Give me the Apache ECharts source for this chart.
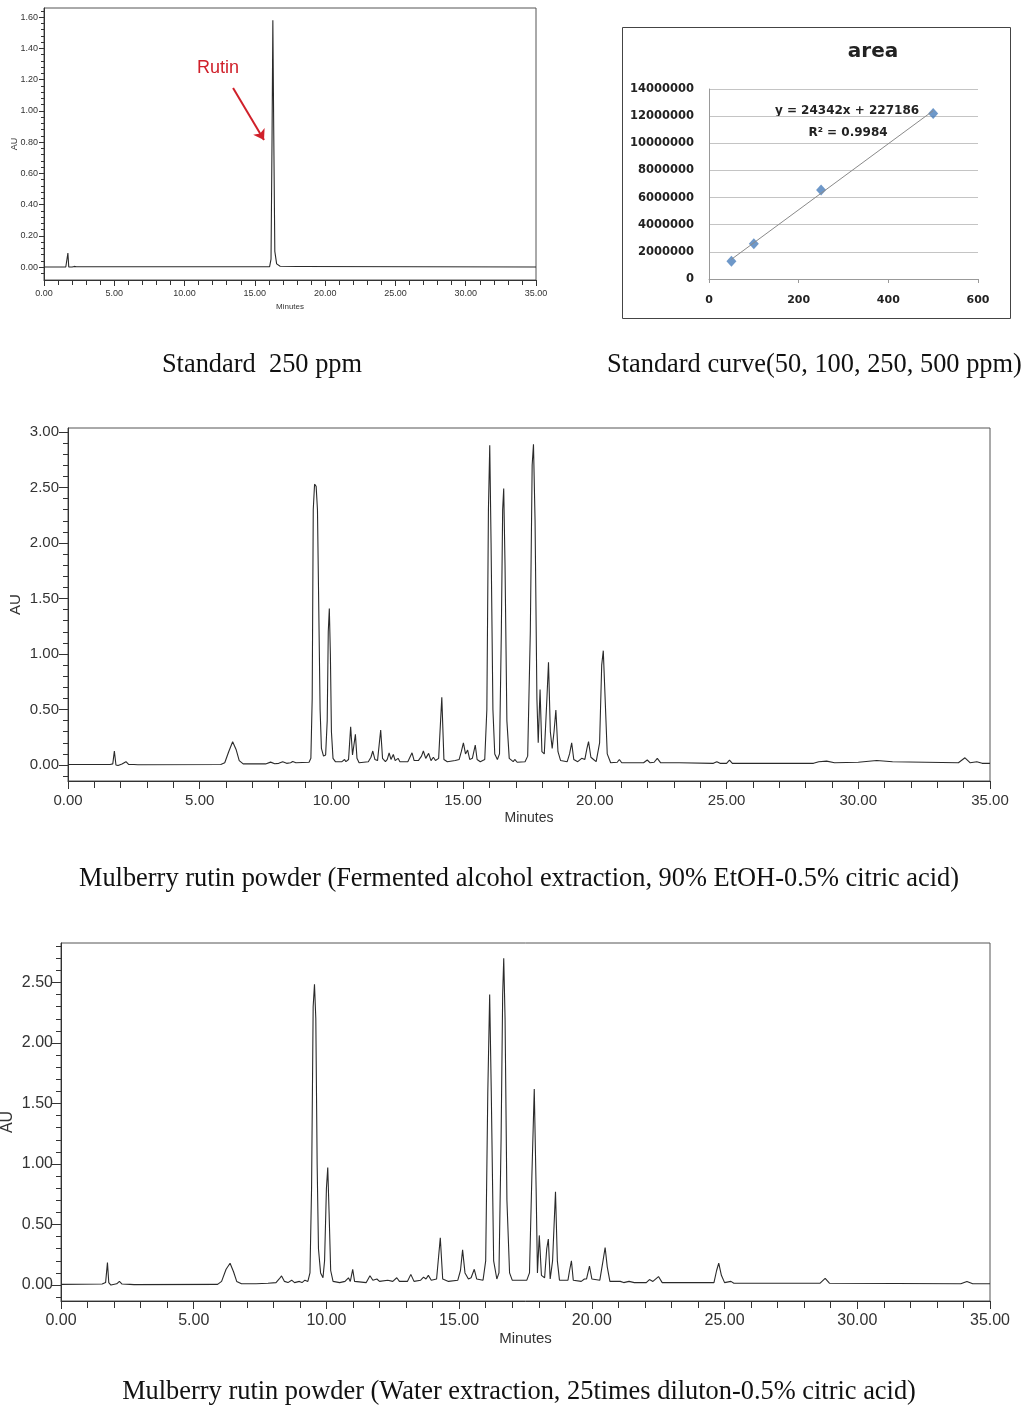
<!DOCTYPE html>
<html lang="en">
<head>
<meta charset="UTF-8">
<title>rutin hplc</title>
<script src="https://cdn.jsdelivr.net/npm/echarts@6.0.0/dist/echarts.min.js"></script>
<style>html,body{margin:0;padding:0;background:#fff}</style>
</head>
<body>
<div id="main" style="width:1025px;height:1407px"></div>
<script>
// --- data: [minutes, AU] ---
var standard = [[0,0],[1.55,0],[1.65,0.005],[1.7,0.09],[1.76,0],[1.85,-0.01],[2.0,0],[2.15,0.004],[2.22,0.015],[2.3,0.002],
  [16.05,0.002],[16.15,0.05],[16.22,0.8],[16.28,1.58],[16.34,0.9],[16.42,0.1],[16.55,0.02],[16.8,0.005],[18.0,0.003],[18.1,0.012],[18.2,0.003],[35,0]];

var fermented = [[0,0.005],[1.6,0.005],[1.7,0.01],[1.76,0.126],[1.82,0],[1.9,-0.005],[2.05,0.01],[2.2,0.03],[2.3,0.005],[2.5,0.005],[2.57,0.012],[2.65,0.003],
  [5.8,0.005],[5.95,0.02],[6.1,0.12],[6.25,0.21],[6.38,0.14],[6.5,0.04],[6.65,0.01],[7.5,0.01],[7.69,0.026],[7.85,0.012],[8.0,0.015],[8.15,0.03],[8.3,0.015],[8.45,0.02],[8.53,0.032],[8.65,0.02],
  [9.15,0.025],[9.22,0.06],[9.27,0.6],[9.31,2.3],[9.36,2.53],[9.42,2.51],[9.47,2.3],[9.52,1.4],[9.57,0.5],[9.62,0.15],[9.7,0.08],[9.78,0.09],[9.84,0.4],[9.88,1.2],[9.92,1.41],[9.96,1.0],[10.0,0.3],[10.06,0.06],
  [10.15,0.03],[10.4,0.03],[10.5,0.05],[10.55,0.03],[10.65,0.05],[10.73,0.345],[10.8,0.09],[10.86,0.08],[10.91,0.276],[10.97,0.06],[11.05,0.02],[11.4,0.03],[11.5,0.07],[11.57,0.126],[11.65,0.05],[11.75,0.04],[11.87,0.315],[11.94,0.06],
  [12.05,0.03],[12.12,0.05],[12.19,0.11],[12.26,0.05],[12.35,0.095],[12.42,0.04],[12.53,0.06],[12.6,0.03],[12.9,0.03],[13.06,0.11],[13.14,0.04],[13.3,0.04],[13.42,0.08],[13.49,0.126],[13.58,0.06],[13.69,0.105],[13.78,0.04],[13.87,0.07],[13.95,0.04],
  [14.07,0.06],[14.19,0.61],[14.27,0.05],[14.4,0.03],[14.7,0.04],[14.85,0.05],[14.93,0.12],[15.01,0.2],[15.09,0.1],[15.17,0.135],[15.25,0.05],[15.35,0.06],[15.46,0.18],[15.53,0.05],[15.65,0.03],
  [15.82,0.05],[15.9,0.5],[15.96,2.3],[16.01,2.88],[16.06,2.0],[16.13,0.5],[16.2,0.1],[16.3,0.05],[16.38,0.1],[16.45,1.2],[16.5,2.3],[16.54,2.49],[16.59,1.8],[16.66,0.4],[16.75,0.06],[16.9,0.03],[16.96,0.05],[17.05,0.025],
  [17.35,0.03],[17.45,0.08],[17.55,1.2],[17.62,2.7],[17.67,2.89],[17.73,2.2],[17.8,0.6],[17.85,0.2],[17.92,0.68],[17.99,0.12],[18.08,0.1],[18.18,0.6],[18.24,0.925],[18.31,0.3],[18.38,0.15],[18.45,0.3],[18.52,0.495],[18.6,0.12],[18.7,0.04],
  [18.95,0.03],[19.04,0.1],[19.12,0.2],[19.2,0.05],[19.35,0.03],[19.5,0.06],[19.56,0.07],[19.62,0.05],[19.7,0.15],[19.76,0.21],[19.85,0.07],[19.95,0.05],[20.05,0.03],[20.18,0.2],[20.26,0.9],[20.32,1.03],[20.39,0.6],[20.47,0.1],[20.6,0.02],
  [20.85,0.025],[20.93,0.05],[21.02,0.02],[21.85,0.02],[21.99,0.045],[22.1,0.02],[22.25,0.025],[22.37,0.06],[22.5,0.02],[22.85,0.02],[23.2,0.02],[24.5,0.015],[24.63,0.03],[24.75,0.015],[25.0,0.015],[25.11,0.045],[25.22,0.015],
  [28.3,0.015],[28.5,0.03],[28.8,0.035],[29.1,0.02],[30.0,0.025],[30.7,0.04],[31.3,0.03],[33.8,0.02],[34.05,0.065],[34.25,0.02],[34.5,0.03],[34.7,0.015],[35,0.015]];

var water = [[0,0.005],[1.55,0.008],[1.68,0.02],[1.75,0.185],[1.8,0.02],[1.88,0],[2.1,0.01],[2.2,0.03],[2.3,0.008],[2.6,0.005],[2.66,0.012],[2.75,0.003],
  [5.9,0.005],[6.05,0.03],[6.22,0.13],[6.37,0.18],[6.5,0.11],[6.62,0.03],[6.8,0.01],[7.35,0.01],[7.8,0.015],[8.1,0.02],[8.22,0.05],[8.31,0.075],[8.42,0.03],[8.55,0.02],[8.69,0.04],[8.8,0.02],[8.98,0.03],[9.08,0.02],[9.19,0.04],[9.3,0.03],
  [9.38,0.1],[9.44,0.8],[9.5,2.3],[9.55,2.485],[9.6,2.2],[9.65,1.0],[9.7,0.3],[9.78,0.1],[9.87,0.06],[9.93,0.2],[10.0,0.8],[10.05,0.97],[10.1,0.6],[10.16,0.12],[10.25,0.03],
  [10.5,0.02],[10.7,0.03],[10.83,0.06],[10.9,0.03],[10.99,0.13],[11.06,0.03],[11.5,0.02],[11.64,0.077],[11.75,0.04],[11.9,0.05],[12.0,0.03],[12.31,0.04],[12.5,0.03],[12.65,0.06],[12.75,0.03],
  [13.05,0.03],[13.18,0.088],[13.3,0.03],[13.55,0.04],[13.66,0.065],[13.75,0.05],[13.84,0.08],[13.95,0.04],[14.15,0.05],[14.29,0.39],[14.38,0.05],[14.6,0.03],
  [14.95,0.04],[15.05,0.12],[15.13,0.29],[15.22,0.1],[15.35,0.05],[15.45,0.06],[15.57,0.13],[15.66,0.05],[15.9,0.04],
  [16.0,0.2],[16.08,1.6],[16.15,2.40],[16.21,1.6],[16.3,0.2],[16.42,0.05],[16.5,0.1],[16.58,1.2],[16.64,2.4],[16.68,2.70],[16.73,2.2],[16.8,0.7],[16.9,0.1],[17.0,0.04],[17.3,0.04],
  [17.55,0.04],[17.65,0.1],[17.74,0.9],[17.83,1.62],[17.9,0.8],[17.95,0.1],[18.02,0.41],[18.1,0.08],[18.22,0.06],[18.3,0.3],[18.36,0.38],[18.43,0.05],[18.52,0.2],[18.63,0.77],[18.7,0.2],[18.78,0.04],
  [19.1,0.04],[19.16,0.12],[19.23,0.2],[19.3,0.04],[19.6,0.03],[19.72,0.05],[19.8,0.05],[19.91,0.157],[20.0,0.05],[20.3,0.04],[20.42,0.2],[20.5,0.31],[20.58,0.15],[20.68,0.03],
  [21.07,0.03],[21.2,0.02],[21.4,0.03],[21.6,0.02],[22.05,0.02],[22.17,0.045],[22.3,0.03],[22.51,0.07],[22.65,0.02],[24.6,0.02],[24.7,0.12],[24.78,0.18],[24.88,0.08],[25.0,0.02],[25.24,0.03],[25.35,0.015],
  [28.6,0.015],[28.79,0.055],[28.95,0.015],[33.9,0.01],[34.13,0.03],[34.35,0.01],[35,0.01]];

// standard curve (ppm, peak area)
var conc = [50, 100, 250, 500];
var area = [1300000, 2600000, 6550000, 12200000];
var trend = [[50, 1450000], [500, 12400000]];

// tick labels
var stdTicks = [0, 0.2, 0.4, 0.6, 0.8, 1.0, 1.2, 1.4, 1.6];
var fermTicks = [0, 0.5, 1.0, 1.5, 2.0, 2.5, 3.0];
var waterTicks = [0, 0.5, 1.0, 1.5, 2.0, 2.5];

function minors(from, to, step, major) {
  var out = [];
  for (var v = from; v <= to + 1e-9; v += step) {
    var r = v / major;
    if (Math.abs(r - Math.round(r)) > 1e-6) out.push(+v.toFixed(3));
  }
  return out;
}

var axisCol = '#333';
var lbl = function (v) { return v.toFixed(2); };

function chromX(gi, fs, font, margin, gap, tickLen) {
  return {
    type: 'value', gridIndex: gi, min: 0, max: 35, interval: 5,
    axisLine: { show: true, onZero: false, lineStyle: { color: axisCol } },
    axisTick: { show: true, length: tickLen, lineStyle: { color: axisCol } },
    minorTick: { show: true, splitNumber: 5, length: tickLen - 1, lineStyle: { color: axisCol } },
    splitLine: { show: false },
    axisLabel: { formatter: lbl, fontSize: fs, fontFamily: font, color: axisCol, margin: margin },
    name: 'Minutes', nameLocation: 'middle', nameGap: gap, nameMoveOverlap: false,
    nameTextStyle: { fontSize: fs - 1, fontFamily: font, color: axisCol }
  };
}
function chromY(gi, min, max, ticks, fs, font, gap, tickLen, margin) {
  return {
    type: 'value', gridIndex: gi, min: min, max: max,
    axisLine: { show: true, onZero: false, lineStyle: { color: axisCol } },
    axisTick: { show: true, length: tickLen, customValues: ticks, lineStyle: { color: axisCol } },
    splitLine: { show: false },
    axisLabel: { customValues: ticks, formatter: lbl, fontSize: fs, fontFamily: font, color: axisCol, margin: margin },
    name: 'AU', nameLocation: 'middle', nameGap: gap, nameMoveOverlap: false,
    nameTextStyle: { fontSize: fs, fontFamily: font, color: axisCol }
  };
}
function minorY(gi, min, max, vals, len) {
  return {
    type: 'value', gridIndex: gi, min: min, max: max, position: 'left', offset: 0,
    axisLine: { show: false },
    axisTick: { show: true, length: len, customValues: vals, lineStyle: { color: axisCol } },
    axisLabel: { show: false }, splitLine: { show: false }
  };
}
function trace(data, xi, yi) {
  return {
    type: 'line', data: data, xAxisIndex: xi, yAxisIndex: yi,
    showSymbol: false, symbol: 'none', smooth: false,
    lineStyle: { color: '#2a2a2a', width: 1.1 }
  };
}

var narrow = '"Liberation Sans Narrow", "Liberation Sans", sans-serif';
var sans = '"Liberation Sans", Arial, sans-serif';
var serif = '"Liberation Serif", "Times New Roman", serif';
var bold = '"DejaVu Sans", Verdana, sans-serif';
var frame = { show: true, borderColor: '#555', borderWidth: 1, backgroundColor: '#fff', containLabel: false, outerBoundsMode: 'none' };

var stdTrace = trace(standard, 0, 0);
stdTrace.markLine = {
  silent: true, symbol: ['none', 'arrow'], symbolSize: 10, animation: false,
  lineStyle: { color: '#d0202a', width: 2, type: 'solid' }, label: { show: false },
  data: [[{ coord: [13.45, 1.146] }, { coord: [15.65, 0.813] }]]
};
stdTrace.markPoint = {
  silent: true, symbol: 'circle', symbolSize: 0, animation: false,
  data: [{ coord: [12.38, 1.274], label: { show: true, position: 'inside', formatter: 'Rutin', color: '#d0202a', fontSize: 18, fontFamily: narrow } }]
};

var chart = echarts.init(document.getElementById('main'));
chart.setOption({
  animation: false,
  backgroundColor: '#fff',
  grid: [
    Object.assign({ left: 44, top: 8, width: 492, height: 272 }, frame),
    Object.assign({ left: 68, top: 428, width: 922, height: 353 }, frame),
    Object.assign({ left: 61, top: 943, width: 929, height: 358 }, frame),
    { left: 709, top: 89, width: 269, height: 190, show: false, containLabel: false, outerBoundsMode: 'none' }
  ],
  xAxis: [
    chromX(0, 9, narrow, 9, 23, 6),
    chromX(1, 15, sans, 12, 30, 8),
    chromX(2, 16, sans, 12, 30, 8),
    {
      type: 'value', gridIndex: 3, min: 0, max: 600, interval: 200,
      axisLine: { show: true, onZero: false, lineStyle: { color: '#999' } },
      axisTick: { show: true, length: 4, lineStyle: { color: '#999' } },
      splitLine: { show: false },
      axisLabel: { fontSize: 11, fontWeight: 'bold', fontFamily: bold, color: '#222', margin: 16 }
    }
  ],
  yAxis: [
    chromY(0, -0.083, 1.658, stdTicks, 9, narrow, 25, 5, 6),
    chromY(1, -0.144, 3.036, fermTicks, 15, sans, 45, 9, 9),
    chromY(2, -0.132, 2.826, waterTicks, 16, sans, 45, 9, 8),
    {
      type: 'value', gridIndex: 3, min: 0, max: 14000000, interval: 2000000,
      axisLine: { show: true, lineStyle: { color: '#999' } },
      axisTick: { show: false },
      splitLine: { show: true, lineStyle: { color: '#c4c4c4' } },
      axisLabel: { fontSize: 11.5, fontWeight: 'bold', fontFamily: bold, color: '#222', margin: 15,
        formatter: function (v) { return String(v); } }
    },
    minorY(0, -0.083, 1.658, minors(-0.04, 1.64, 0.04, 0.2), 3),
    minorY(1, -0.144, 3.036, minors(-0.1, 3.0, 0.1, 0.5), 5),
    minorY(2, -0.132, 2.826, minors(-0.1, 2.8, 0.1, 0.5), 5)
  ],
  series: [
    stdTrace,
    trace(fermented, 1, 1),
    trace(water, 2, 2),
    {
      type: 'line', data: trend, xAxisIndex: 3, yAxisIndex: 3, showSymbol: false, symbol: 'none',
      lineStyle: { color: '#8a8a8a', width: 1 }
    },
    {
      type: 'scatter', xAxisIndex: 3, yAxisIndex: 3, symbol: 'diamond', symbolSize: [10, 11],
      itemStyle: { color: '#4a7ebb' },
      data: conc.map(function (c, i) { return [c, area[i]]; })
    }
  ],
  graphic: [
    { type: 'rect', silent: true, shape: { x: 622.5, y: 27.5, width: 388, height: 291 }, style: { fill: 'none', stroke: '#444', lineWidth: 1 } },
    { type: 'text', silent: true, x: 873, y: 52, style: { text: 'area', font: 'bold 20px ' + bold, fill: '#222', align: 'center', verticalAlign: 'middle' } },
    { type: 'text', silent: true, x: 847, y: 111, style: { text: 'y = 24342x + 227186', font: 'bold 12px ' + bold, fill: '#222', align: 'center', verticalAlign: 'middle' } },
    { type: 'text', silent: true, x: 848, y: 133, style: { text: 'R² = 0.9984', font: 'bold 12px ' + bold, fill: '#222', align: 'center', verticalAlign: 'middle' } },
    { type: 'text', silent: true, x: 262, y: 365, style: { text: 'Standard  250 ppm', font: '26.4px ' + serif, fill: '#111', align: 'center', verticalAlign: 'middle' } },
    { type: 'text', silent: true, x: 607, y: 365, style: { text: 'Standard curve(50, 100, 250, 500 ppm)', font: '26.4px ' + serif, fill: '#111', align: 'left', verticalAlign: 'middle' } },
    { type: 'text', silent: true, x: 519, y: 879, style: { text: 'Mulberry rutin powder (Fermented alcohol extraction, 90% EtOH-0.5% citric acid)', font: '26.4px ' + serif, fill: '#111', align: 'center', verticalAlign: 'middle' } },
    { type: 'text', silent: true, x: 519, y: 1392, style: { text: 'Mulberry rutin powder (Water extraction, 25times diluton-0.5% citric acid)', font: '26.4px ' + serif, fill: '#111', align: 'center', verticalAlign: 'middle' } }
  ]
});
</script>
</body>
</html>
